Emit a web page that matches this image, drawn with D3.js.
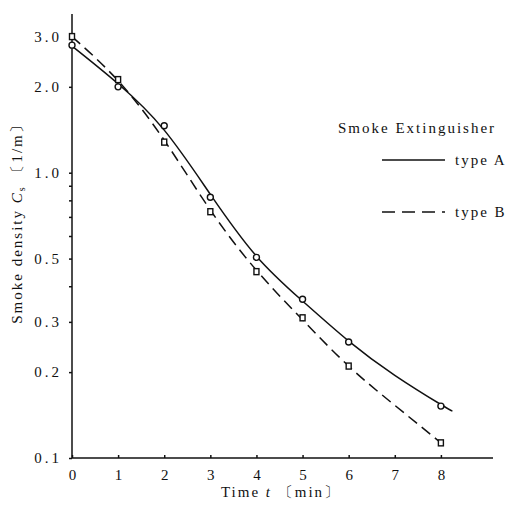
<!DOCTYPE html>
<html><head><meta charset="utf-8">
<script src="https://cdn.jsdelivr.net/npm/d3@7/dist/d3.min.js"></script>
<style>
body{margin:0;background:#fff;}
text{font-family:"Liberation Serif","DejaVu Serif",serif;fill:#111;}
</style></head>
<body><svg id="c" width="509" height="511"></svg>
<script>
// Data
const timesA = [0, 1, 2, 3, 4, 5, 6, 8];
const valuesA = [2.8, 2.0, 1.46, 0.82, 0.505, 0.36, 0.255, 0.152];
const timesB = [0, 1, 2, 3, 4, 5, 6, 8];
const valuesB = [3.0, 2.12, 1.28, 0.73, 0.45, 0.31, 0.21, 0.113];
// smooth fitted curves (knots)
const curveTA = [0, 1, 2, 3, 4, 5, 6, 7, 8, 8.25];
const curveVA = [2.78, 2.05, 1.41, 0.84, 0.51, 0.355, 0.257, 0.195, 0.154, 0.146];
const curveTB = [0, 1, 2, 3, 4, 5, 6, 7, 8];
const curveVB = [3.0, 2.1, 1.3, 0.74, 0.455, 0.305, 0.21, 0.153, 0.113];
const xTicks = [0, 1, 2, 3, 4, 5, 6, 7, 8];
const yTickLabels = [0.1, 0.2, 0.3, 0.5, 1.0, 2.0, 3.0];
const yMinorTicks = [0.4, 0.6, 0.7, 0.8, 0.9];
const seriesNames = ["type A", "type B"];

const svg = d3.select("#c");
const x = d3.scaleLinear().domain([0, 9.13]).range([72, 493]);
const y = d3.scaleLog().domain([0.1, 3.6]).range([458, 14]);

// axes
const xAxis = d3.axisBottom(x).tickValues(xTicks).tickSize(-3).tickPadding(11)
  .tickFormat(d3.format("d"));
const gx = svg.append("g").attr("transform", `translate(0,${y(0.1)})`).call(xAxis);
gx.select(".domain").attr("d", `M${x(0)},0H${x(9.13)}`).attr("stroke", "#111").attr("stroke-width", 1.3);
gx.selectAll(".tick line").attr("stroke", "#111").attr("stroke-width", 1.5);
gx.selectAll(".tick text").attr("font-size", 15).attr("font-family", "Liberation Serif, serif").attr("fill", "#111");

const yAxis = d3.axisLeft(y).tickValues(yTickLabels.concat(yMinorTicks)).tickSize(3).tickPadding(7)
  .tickFormat(d => yTickLabels.includes(d) ? d3.format(".1f")(d) : "");
const gy = svg.append("g").attr("transform", `translate(${x(0)},0)`).call(yAxis);
gy.select(".domain").attr("d", `M0,${y(3.6)}V${y(0.1)}`).attr("stroke", "#111").attr("stroke-width", 1.5);
gy.selectAll(".tick line").attr("stroke", "#111").attr("stroke-width", 1.5);
gy.selectAll(".tick text").attr("font-size", 15).attr("font-family", "Liberation Serif, serif")
  .attr("fill", "#111").attr("letter-spacing", 3);

// curves
const line = d3.line().x(d => x(d[0])).y(d => y(d[1])).curve(d3.curveNatural);
svg.append("path").datum(d3.zip(curveTA, curveVA)).attr("d", line)
  .attr("fill", "none").attr("stroke", "#111").attr("stroke-width", 1.5);
svg.append("path").datum(d3.zip(curveTB, curveVB)).attr("d", line)
  .attr("fill", "none").attr("stroke", "#111").attr("stroke-width", 1.5).attr("stroke-dasharray", "11,6");

// markers
svg.append("g").selectAll("circle").data(d3.zip(timesA, valuesA)).join("circle")
  .attr("cx", d => x(d[0])).attr("cy", d => y(d[1])).attr("r", 3)
  .attr("fill", "#fff").attr("stroke", "#111").attr("stroke-width", 1.4);
svg.append("g").selectAll("rect").data(d3.zip(timesB, valuesB)).join("rect")
  .attr("x", d => x(d[0]) - 2.5).attr("y", d => y(d[1]) - 3).attr("width", 5).attr("height", 6)
  .attr("fill", "#fff").attr("stroke", "#111").attr("stroke-width", 1.4);

// axis titles
const yt = svg.append("text").attr("transform", "translate(22,220) rotate(-90)")
  .attr("text-anchor", "middle").attr("font-size", 15).attr("letter-spacing", 2);
yt.append("tspan").text("Smoke density ");
yt.append("tspan").attr("font-style", "italic").text("C");
yt.append("tspan").attr("font-size", 10).attr("dy", 3).text("s");
yt.append("tspan").attr("dy", -3).text(" 〔1/m〕");

const xt = svg.append("text").attr("x", 281).attr("y", 497).attr("text-anchor", "middle")
  .attr("font-size", 15).attr("letter-spacing", 2);
xt.append("tspan").text("Time  ");
xt.append("tspan").attr("font-style", "italic").text("t");
xt.append("tspan").text(" 〔min〕");

// legend
svg.append("text").attr("x", 338).attr("y", 133).attr("font-size", 15).attr("letter-spacing", 2)
  .text("Smoke Extinguisher");
const lg = svg.append("g").selectAll("g").data(seriesNames).join("g")
  .attr("transform", (d, i) => `translate(382,${160 + i * 52})`);
lg.append("line").attr("x1", 0).attr("x2", 63).attr("y1", 0).attr("y2", 0)
  .attr("stroke", "#111").attr("stroke-width", 1.5)
  .attr("stroke-dasharray", (d, i) => i ? "13,7" : null);
lg.append("text").attr("x", 73).attr("y", 5).attr("font-size", 15).attr("letter-spacing", 2).text(d => d);
</script></body></html>
